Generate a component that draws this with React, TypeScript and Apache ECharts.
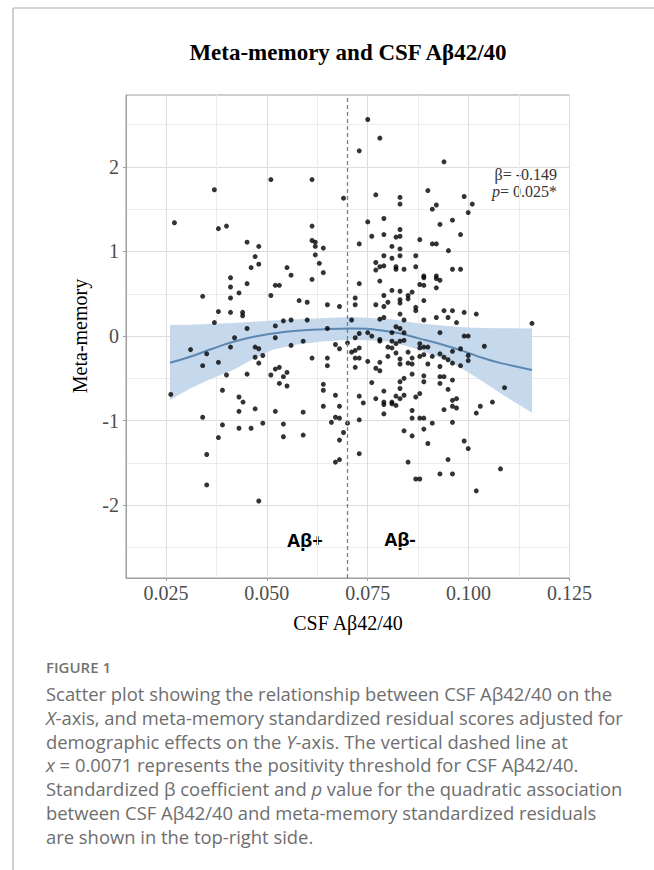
import React, { useEffect, useRef } from 'react';
import * as echarts from 'echarts';

// ---- scatter data: CSF Aβ42/40 (x) and meta-memory residual (y) ----
const leftUpperX = [
  0.0271, 0.0370, 0.0380, 0.0400, 0.0510, 0.0451, 0.0480, 0.0471, 0.0461, 0.0480,
  0.0410, 0.0410, 0.0431, 0.0451, 0.0410, 0.0341, 0.0380, 0.0410, 0.0370, 0.0440,
  0.0440, 0.0510, 0.0521, 0.0531, 0.0550, 0.0560, 0.0580, 0.0600, 0.0541, 0.0560,
  0.0600,
];
const leftUpperY = [
  1.34, 1.73, 1.27, 1.30, 1.85, 1.11, 1.06, 0.94, 0.81, 0.85,
  0.69, 0.58, 0.51, 0.62, 0.45, 0.47, 0.29, 0.28, 0.16, 0.28,
  0.24, 0.48, 0.60, 0.60, 0.81, 0.72, 0.42, 0.40, 0.18, 0.19,
  0.19,
];
const leftLowerX = [
  0.0262, 0.0311, 0.0341, 0.0351, 0.0341, 0.0351, 0.0351, 0.0380, 0.0390, 0.0390,
  0.0380, 0.0400, 0.0410, 0.0420, 0.0431, 0.0441, 0.0431, 0.0431, 0.0451, 0.0451,
  0.0461, 0.0471, 0.0471, 0.0480, 0.0480, 0.0490, 0.0471, 0.0490, 0.0480, 0.0510,
  0.0521, 0.0521, 0.0521, 0.0531, 0.0541, 0.0531, 0.0550, 0.0550, 0.0521, 0.0541,
  0.0541, 0.0560, 0.0590, 0.0590, 0.0590,
];
const leftLowerY = [
  -0.69, -0.16, -0.35, -0.21, -0.96, -1.40, -1.76, -0.31, -0.64, -1.05,
  -1.20, -0.46, -0.13, -0.02, -0.72, -0.78, -0.89, -1.09, 0.09, -0.45,
  -1.09, -0.13, -0.25, -0.15, -0.32, -0.23, -0.86, -1.03, -1.95, -0.46,
  0.12, -0.02, -0.39, -0.37, -0.48, -0.56, -0.43, -0.59, -0.89, -1.04,
  -1.19, -0.11, -0.06, -0.90, -1.17,
];
const rightUpperX = [
  0.0750, 0.0780, 0.0729, 0.0939, 0.0612, 0.0690, 0.0770, 0.0830, 0.0830, 0.0899,
  0.0989, 0.1009, 0.0910, 0.0920, 0.0999, 0.0790, 0.0750, 0.0929, 0.0960, 0.0612,
  0.0830, 0.0760, 0.0790, 0.0820, 0.0830, 0.0879, 0.0980, 0.0612, 0.0620, 0.0620,
  0.0729, 0.0810, 0.0830, 0.0910, 0.0920, 0.0640, 0.0950, 0.0620, 0.0790, 0.0830,
  0.0869, 0.0810, 0.0770, 0.0790, 0.0780, 0.0820, 0.0820, 0.0840, 0.0869, 0.0770,
  0.0630, 0.0960, 0.0980, 0.0640, 0.0612, 0.0729, 0.0780, 0.0879, 0.0889, 0.0889,
  0.0889, 0.0920, 0.0920, 0.0929, 0.0920, 0.0810, 0.0830, 0.0860, 0.0850, 0.0850,
  0.0830, 0.0830, 0.0790, 0.0800, 0.0790, 0.0770, 0.0889, 0.0869, 0.0869, 0.0939,
  0.0960, 0.0949, 0.0989, 0.1019, 0.0970, 0.0920, 0.0889, 0.0840, 0.0830, 0.0780,
  0.0790, 0.0719, 0.0719, 0.0650, 0.0680, 0.0710, 0.1157,
];
const rightUpperY = [
  2.56, 2.34, 2.19, 2.06, 1.85, 1.63, 1.67, 1.64, 1.56, 1.72,
  1.65, 1.56, 1.50, 1.55, 1.46, 1.39, 1.35, 1.32, 1.37, 1.30,
  1.26, 1.18, 1.20, 1.17, 1.18, 1.14, 1.20, 1.13, 1.11, 1.06,
  1.09, 1.06, 1.03, 1.09, 1.09, 1.04, 1.01, 0.96, 0.95, 0.95,
  0.95, 0.92, 0.87, 0.83, 0.82, 0.82, 0.79, 0.79, 0.82, 0.78,
  0.86, 0.79, 0.79, 0.75, 0.67, 0.62, 0.65, 0.61, 0.71, 0.69,
  0.60, 0.71, 0.68, 0.66, 0.57, 0.54, 0.53, 0.52, 0.48, 0.44,
  0.43, 0.39, 0.48, 0.40, 0.35, 0.37, 0.42, 0.34, 0.30, 0.30,
  0.30, 0.22, 0.28, 0.26, 0.16, 0.22, 0.19, 0.19, 0.26, 0.20,
  0.22, 0.45, 0.37, 0.37, 0.35, 0.19, 0.15,
];
const rightLowerX = [
  0.0929, 0.0989, 0.0999, 0.0810, 0.0820, 0.0830, 0.0840, 0.0760, 0.0750, 0.0729,
  0.0719, 0.0700, 0.0670, 0.0680, 0.0650, 0.0710, 0.0719, 0.0729, 0.0719, 0.0719,
  0.0729, 0.0750, 0.0780, 0.0780, 0.0800, 0.0810, 0.0820, 0.0830, 0.0810, 0.0840,
  0.0820, 0.0800, 0.0830, 0.0830, 0.0780, 0.0770, 0.0780, 0.0850, 0.0860, 0.0850,
  0.0860, 0.0879, 0.0879, 0.0889, 0.0899, 0.0889, 0.0879, 0.0910, 0.0899, 0.0929,
  0.0939, 0.0949, 0.0960, 0.0960, 0.0980, 0.0999, 0.0999, 0.0980, 0.1039, 0.0929,
  0.0929, 0.0939, 0.0929, 0.0960, 0.0949, 0.0960, 0.0970, 0.0960, 0.0970, 0.0939,
  0.0960, 0.0760, 0.0770, 0.0790, 0.0790, 0.0790, 0.0810, 0.0810, 0.0820, 0.0820,
  0.0830, 0.0840, 0.0830, 0.0830, 0.0840, 0.0860, 0.0869, 0.0879, 0.0860, 0.0860,
  0.0879, 0.0889, 0.0889, 0.0889, 0.0910, 0.0889, 0.0899, 0.0840, 0.0860, 0.0790,
  0.0729, 0.0739, 0.0729, 0.0729, 0.0700, 0.0690, 0.0680, 0.0670, 0.0680, 0.0670,
  0.0680, 0.0660, 0.0640, 0.0640, 0.0640, 0.0650, 0.0650, 0.0612, 0.0670, 0.0680,
  0.0850, 0.0869, 0.0879, 0.0929, 0.0949, 0.0960, 0.0989, 0.0999, 0.1019, 0.1019,
  0.1029, 0.1059, 0.1089, 0.1079,
];
const rightLowerY = [
  0.04, 0.00, 0.00, 0.04, 0.11, 0.09, 0.04, 0.00, 0.04, 0.03,
  -0.02, -0.08, -0.10, -0.15, 0.09, -0.19, -0.17, -0.14, -0.26, -0.37,
  -0.26, -0.30, -0.04, -0.06, -0.13, -0.14, -0.09, -0.06, -0.06, -0.05,
  -0.20, -0.24, -0.27, -0.33, -0.31, -0.38, -0.41, -0.19, -0.26, -0.32,
  -0.33, -0.09, -0.14, -0.13, -0.13, -0.22, -0.24, -0.24, -0.33, -0.21,
  -0.25, -0.28, -0.18, -0.32, -0.15, -0.23, -0.29, -0.35, -0.12, -0.36,
  -0.48, -0.48, -0.56, -0.52, -0.63, -0.76, -0.74, -0.83, -0.85, -0.87,
  -1.02, -0.55, -0.74, -0.65, -0.78, -0.81, -0.78, -0.80, -0.82, -0.71,
  -0.74, -0.70, -0.62, -0.54, -0.50, -0.45, -0.72, -0.68, -0.88, -0.97,
  -0.97, -0.97, -0.47, -0.54, -1.03, -1.10, -1.27, -1.12, -1.18, -0.92,
  -0.71, -0.79, -0.99, -1.39, -1.03, -1.14, -1.23, -0.70, -0.83, -0.96,
  -0.97, -1.02, -0.57, -0.64, -0.83, -0.26, -0.35, -0.26, -1.49, -1.46,
  -1.49, -1.69, -1.69, -1.63, -1.46, -1.63, -1.24, -1.33, -1.83, -0.91,
  -0.83, -0.78, -0.61, -1.57,
];

// ---- quadratic fit and its confidence band ----
const fitX = [0.026, 0.031, 0.0365, 0.0417, 0.0466, 0.0516, 0.0575, 0.0631, 0.071, 0.0809, 0.0879, 0.0953, 0.1, 0.1036, 0.108, 0.1157];
const fitY = [-0.315, -0.244, -0.15, -0.067, -0.01, 0.031, 0.062, 0.079, 0.09, 0.05, -0.03, -0.126, -0.2, -0.26, -0.32, -0.4];
const bandUpper = [0.13, 0.135, 0.145, 0.155, 0.17, 0.185, 0.2, 0.21, 0.225, 0.2, 0.15, 0.115, 0.1, 0.095, 0.092, 0.09];
const bandLower = [-0.755, -0.62, -0.5, -0.4, -0.27, -0.16, -0.1, -0.067, -0.04, -0.067, -0.165, -0.3, -0.43, -0.54, -0.68, -0.905];

// ---- axes ----
const xMin = 0.0151;
const xMax = 0.125;
const yMin = -2.86;
const yMax = 2.85;
const xTicks = [0.025, 0.05, 0.075, 0.1, 0.125];
const xMinorTicks = [0.0375, 0.0625, 0.0875, 0.1125];
const yTicks = [-2, -1, 0, 1, 2];
const yMinorTicks = [-2.5, -1.5, -0.5, 0.5, 1.5, 2.5];
const threshold = 0.071;

// ---- texts ----
const titleText = 'Meta-memory and CSF Aβ42/40';
const xTitle = 'CSF Aβ42/40';
const yTitle = 'Meta-memory';
const betaLabel = 'β= -0.149';
const pLabel = '{i|p}= 0.025*';
const groupLabels = ['Aβ+', 'Aβ-'];
const figureLabel = 'FIGURE 1';
const captionLines = [
  'Scatter plot showing the relationship between CSF Aβ42/40 on the',
  '{i|X}-axis, and meta-memory standardized residual scores adjusted for',
  'demographic effects on the {i|Y}-axis. The vertical dashed line at',
  '{i|x} = 0.0071 represents the positivity threshold for CSF Aβ42/40.',
  'Standardized β coefficient and {i|p} value for the quadratic association',
  'between CSF Aβ42/40 and meta-memory standardized residuals',
  'are shown in the top-right side.',
];

const SERIF = "'Liberation Serif', 'Times New Roman', serif";
const SANS = "'Open Sans', 'Noto Sans', sans-serif";

function buildOption() {
  const points: number[][] = [];
  const xs = [...leftUpperX, ...leftLowerX, ...rightUpperX, ...rightLowerX];
  const ys = [...leftUpperY, ...leftLowerY, ...rightUpperY, ...rightLowerY];
  for (let i = 0; i < xs.length; i++) points.push([xs[i], ys[i]]);

  const fitData = fitX.map((x, i) => [x, fitY[i]]);

  const capFont = 18.4;
  const capColor = '#6e6e6e';
  const captionGraphics = captionLines.map((line, i) => ({
    type: 'text',
    x: 46,
    y: 693.5 + i * 23.8,
    silent: true,
    style: {
      text: line,
      fill: capColor,
      fontFamily: SANS,
      fontSize: capFont,
      fontWeight: 400,
      align: 'left',
      textAlign: 'left',
      verticalAlign: 'middle',
      textVerticalAlign: 'middle',
      rich: {
        i: { fontFamily: SANS, fontSize: capFont, fontStyle: 'italic', fill: capColor },
      },
    },
  }));

  return {
    animation: false,
    backgroundColor: '#ffffff',
    textStyle: { fontFamily: SERIF },
    grid: {
      left: 126,
      top: 95,
      right: 84.5,
      bottom: 292,
      show: true,
      borderColor: '#9e9e9e',
      borderWidth: 1,
      containLabel: false,
    },
    xAxis: [
      {
        type: 'value',
        min: xMin,
        max: xMax,
        position: 'bottom',
        axisLine: { show: true, onZero: false, lineStyle: { color: '#9e9e9e', width: 1 } },
        axisTick: { show: true, length: 3, customValues: xTicks, lineStyle: { color: '#9e9e9e' } },
        axisLabel: {
          customValues: xTicks,
          formatter: (v: number) => v.toFixed(3),
          fontFamily: SERIF,
          fontSize: 20,
          color: '#4d4d4d',
          margin: 5,
        },
        splitLine: { show: true, lineStyle: { color: '#dddddd', width: 1 } },
      },
      {
        type: 'value',
        min: xMin,
        max: xMax,
        position: 'top',
        axisLine: { show: false },
        axisTick: { show: false, customValues: xMinorTicks },
        axisLabel: { show: false, customValues: xMinorTicks },
        splitLine: { show: true, lineStyle: { color: '#ececec', width: 1 } },
      },
    ],
    yAxis: [
      {
        type: 'value',
        min: yMin,
        max: yMax,
        position: 'left',
        axisLine: { show: true, onZero: false, lineStyle: { color: '#9e9e9e', width: 1 } },
        axisTick: { show: true, length: 3, customValues: yTicks, lineStyle: { color: '#9e9e9e' } },
        axisLabel: {
          customValues: yTicks,
          formatter: (v: number) => String(v),
          fontFamily: SERIF,
          fontSize: 20,
          color: '#4d4d4d',
          margin: 7,
        },
        splitLine: { show: true, lineStyle: { color: '#dddddd', width: 1 } },
      },
      {
        type: 'value',
        min: yMin,
        max: yMax,
        position: 'right',
        axisLine: { show: false },
        axisTick: { show: false, customValues: yMinorTicks },
        axisLabel: { show: false, customValues: yMinorTicks },
        splitLine: { show: true, lineStyle: { color: '#ececec', width: 1 } },
      },
    ],
    series: [
      {
        type: 'custom',
        xAxisIndex: 0,
        yAxisIndex: 0,
        silent: true,
        z: 1,
        data: [[fitX[0], fitY[0]]],
        renderItem: (params: any, api: any) => {
          const pts: number[][] = [];
          for (let i = 0; i < fitX.length; i++) pts.push(api.coord([fitX[i], bandUpper[i]]));
          for (let i = fitX.length - 1; i >= 0; i--) pts.push(api.coord([fitX[i], bandLower[i]]));
          return {
            type: 'polygon',
            shape: { points: pts },
            style: { fill: '#c6d9ec', stroke: 'none' },
          };
        },
      },
      {
        type: 'line',
        xAxisIndex: 0,
        yAxisIndex: 0,
        data: fitData,
        smooth: true,
        symbol: 'none',
        silent: true,
        z: 2,
        lineStyle: { color: '#5b87b1', width: 2 },
      },
      {
        type: 'scatter',
        xAxisIndex: 0,
        yAxisIndex: 0,
        data: points,
        symbolSize: 5,
        silent: true,
        z: 3,
        itemStyle: { color: '#000000' },
        markLine: {
          silent: true,
          symbol: ['none', 'none'],
          label: { show: false },
          lineStyle: { type: [4, 3], color: '#4a8fae', width: 1.3 },
          data: [{ xAxis: threshold }],
        },
      },
    ],
    graphic: [
      { type: 'line', silent: true, shape: { x1: 13, y1: 8, x2: 654, y2: 8 }, style: { stroke: '#b0b0b0', lineWidth: 1.2 } },
      { type: 'line', silent: true, shape: { x1: 13, y1: 8, x2: 13, y2: 870 }, style: { stroke: '#b0b0b0', lineWidth: 1.2 } },
      {
        type: 'text', x: 348, y: 52, silent: true,
        style: { text: titleText, fill: '#000', fontFamily: SERIF, fontSize: 23, fontWeight: 'bold', align: 'center', textAlign: 'center', verticalAlign: 'middle', textVerticalAlign: 'middle' },
      },
      {
        type: 'text', x: 348, y: 623, silent: true,
        style: { text: xTitle, fill: '#000', fontFamily: SERIF, fontSize: 20, align: 'center', textAlign: 'center', verticalAlign: 'middle', textVerticalAlign: 'middle' },
      },
      {
        type: 'text', x: 80, y: 336, rotation: Math.PI / 2, silent: true,
        style: { text: yTitle, fill: '#000', fontFamily: SERIF, fontSize: 20, align: 'center', textAlign: 'center', verticalAlign: 'middle', textVerticalAlign: 'middle' },
      },
      {
        type: 'text', x: 557, y: 174, silent: true,
        style: { text: betaLabel, fill: '#333', fontFamily: SERIF, fontSize: 16, align: 'right', textAlign: 'right', verticalAlign: 'middle', textVerticalAlign: 'middle' },
      },
      {
        type: 'text', x: 557, y: 191, silent: true,
        style: {
          text: pLabel, fill: '#333', fontFamily: SERIF, fontSize: 16, align: 'right', textAlign: 'right', verticalAlign: 'middle', textVerticalAlign: 'middle',
          rich: { i: { fontFamily: SERIF, fontSize: 16, fontStyle: 'italic', fill: '#333' } },
        },
      },
      {
        type: 'text', x: 305, y: 539, silent: true,
        style: { text: groupLabels[0], fill: '#000', fontFamily: SANS, fontSize: 18.5, fontWeight: 'bold', align: 'center', textAlign: 'center', verticalAlign: 'middle', textVerticalAlign: 'middle' },
      },
      {
        type: 'text', x: 400, y: 538, silent: true,
        style: { text: groupLabels[1], fill: '#000', fontFamily: SANS, fontSize: 18.5, fontWeight: 'bold', align: 'center', textAlign: 'center', verticalAlign: 'middle', textVerticalAlign: 'middle' },
      },
      {
        type: 'text', x: 46, y: 667, silent: true,
        style: { text: figureLabel, fill: '#737373', fontFamily: SANS, fontSize: 15, fontWeight: 600, align: 'left', textAlign: 'left', verticalAlign: 'middle', textVerticalAlign: 'middle' },
      },
      ...captionGraphics,
    ],
  };
}

export default function App() {
  const ref = useRef<HTMLDivElement>(null);
  useEffect(() => {
    if (!ref.current) return;
    const chart = echarts.init(ref.current, null, { renderer: 'svg' });
    chart.setOption(buildOption() as any);
    return () => chart.dispose();
  }, []);
  return (
    <div
      ref={ref}
      style={{ position: 'fixed', left: 0, top: 0, width: 654, height: 870, background: '#ffffff' }}
    />
  );
}
